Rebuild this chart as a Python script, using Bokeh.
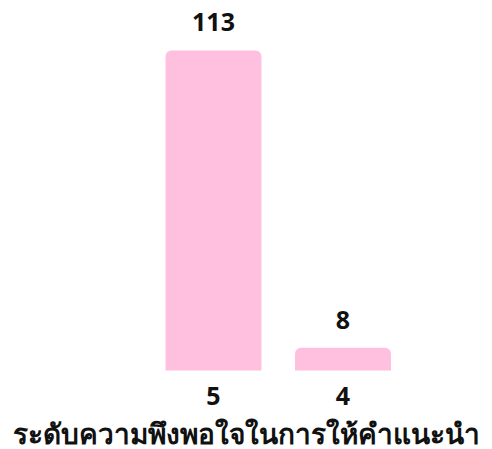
from bokeh.plotting import figure
from bokeh.models import ColumnDataSource, Range1d, Label
from bokeh.core.properties import value
from bokeh.embed import file_html
from bokeh.resources import INLINE

categories = ["5", "4"]
counts = [113, 8]
count_labels = ["113", "8"]
title_text = "ระดับความพึงพอใจในการให้คำแนะนำ"

FONT = "Noto Sans"
BAR_COLOR = "#FFBFDF"

source = ColumnDataSource(dict(pos=list(range(len(categories))), cat=categories,
                               val=counts, lab=count_labels,
                               zero=[0] * len(categories)))

p = figure(width=492, height=449, output_backend="svg", toolbar_location=None,
           x_range=Range1d(-1.6448, 2.1544), y_range=Range1d(-27.9, 130.65),
           min_border=0)
p.axis.visible = False
p.grid.visible = False
p.outline_line_color = None
p.background_fill_color = "white"

p.vbar(x="pos", top="val", width=0.741, source=source, fill_color=BAR_COLOR,
       line_color=None, border_radius=(6, 6, 0, 0))

p.text(x="pos", y="val", text="lab", source=source, text_align="center",
       text_baseline="alphabetic", y_offset=-28, text_font=value(FONT),
       text_font_style="bold", text_font_size="25px", text_color="#111111")

p.text(x="pos", y="zero", text="cat", source=source, text_align="center",
       text_baseline="alphabetic", y_offset=26, text_font=value(FONT),
       text_font_style="bold", text_font_size="25px", text_color="#111111")

p.add_layout(Label(x=246, y=17, x_units="screen", y_units="screen", text=title_text,
                   text_align="center", text_baseline="alphabetic",
                   text_font=FONT, text_font_style="bold", text_font_size="28px",
                   text_color="#111111"))

open("out.html", "w").write(file_html(p, INLINE))
